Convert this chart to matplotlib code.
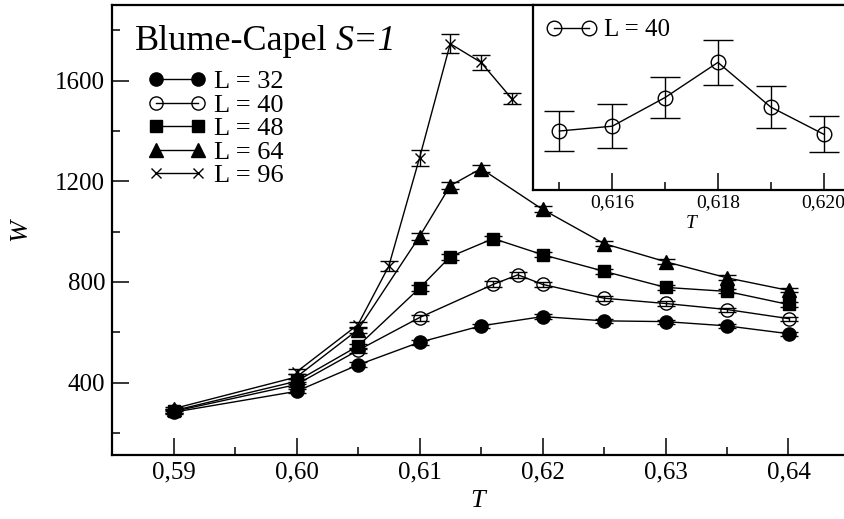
import matplotlib
matplotlib.use("Agg")
import matplotlib.pyplot as plt
from matplotlib.lines import Line2D
from matplotlib.ticker import MultipleLocator, FuncFormatter

plt.rcParams["font.family"] = "Liberation Serif"

# ── data ─────────────────────────────────────────────────────────
T32 = [0.59, 0.60, 0.605, 0.61, 0.615, 0.62, 0.625, 0.63, 0.635, 0.64]
W32 = [282, 365, 470, 560, 625, 662, 645, 642, 625, 594]
E32 = [8, 8, 10, 10, 8, 10, 8, 8, 8, 8]

T40 = [0.59, 0.60, 0.605, 0.61, 0.616, 0.618, 0.62, 0.625, 0.63, 0.635, 0.64]
W40 = [285, 392, 528, 658, 790, 828, 790, 735, 714, 690, 654]
E40 = [8, 10, 10, 12, 12, 12, 10, 10, 8, 8, 8]

T48 = [0.59, 0.60, 0.605, 0.61, 0.6125, 0.616, 0.62, 0.625, 0.63, 0.635, 0.64]
W48 = [288, 405, 545, 775, 900, 972, 908, 842, 778, 762, 710]
E48 = [8, 10, 10, 12, 12, 10, 10, 10, 10, 8, 8]

T64 = [0.59, 0.60, 0.605, 0.61, 0.6125, 0.615, 0.62, 0.625, 0.63, 0.635, 0.64]
W64 = [296, 422, 610, 980, 1182, 1250, 1088, 952, 880, 816, 766]
E64 = [8, 10, 12, 15, 15, 15, 12, 10, 10, 10, 8]

T96 = [0.60, 0.605, 0.6075, 0.61, 0.6125, 0.615, 0.6175]
W96 = [442, 630, 862, 1292, 1746, 1672, 1528]
E96 = [10, 12, 20, 30, 38, 30, 22]

# inset: L = 40 around the peak
TI = [0.615, 0.616, 0.617, 0.618, 0.619, 0.620]
WI = [785, 788, 806, 828, 800, 783]
EI = [12.8, 13.7, 13.0, 14.0, 13.4, 11.3]

LABELS = ["L = 32", "L = 40", "L = 48", "L = 64", "L = 96"]

# ── styles ───────────────────────────────────────────────────────
series = [
    (T32, W32, E32, "o", "black", 9.5),
    (T40, W40, E40, "o", "none", 9.5),
    (T48, W48, E48, "s", "black", 9.0),
    (T64, W64, E64, "^", "black", 10.5),
    (T96, W96, E96, "x", "black", 7.5),
]

comma = FuncFormatter(lambda v, p: f"{v:.2f}".replace(".", ","))
comma3 = FuncFormatter(lambda v, p: f"{v:.3f}".replace(".", ","))

fig = plt.figure(figsize=(8.45, 5.19), dpi=100)
ax = fig.add_axes([112 / 845, 64 / 519, 738 / 845, 450 / 519])

for (t, w, e, m, fc, ms) in series:
    ax.errorbar(t, w, yerr=e, color="black", lw=1.0, marker=m, ms=ms,
                mfc=fc, mec="black", mew=1.0, capsize=6.5, elinewidth=1.0,
                capthick=1.0, zorder=3)

ax.set_xlim(0.585, 0.645)
ax.set_ylim(112, 1900)
ax.xaxis.set_major_locator(MultipleLocator(0.01))
ax.xaxis.set_minor_locator(MultipleLocator(0.005))
ax.yaxis.set_major_locator(MultipleLocator(400))
ax.yaxis.set_minor_locator(MultipleLocator(200))
ax.xaxis.set_major_formatter(comma)
ax.tick_params(which="both", direction="in", top=False, right=False,
               width=1.1, labelsize=18)
ax.tick_params(which="major", length=12, pad=5)
ax.tick_params(which="minor", length=6)
for s in ax.spines.values():
    s.set_linewidth(1.6)

ax.set_xlabel("T", fontsize=19, fontstyle="italic")
ax.set_ylabel("W", fontsize=19, fontstyle="italic")
ax.xaxis.set_label_coords((478 - 112) / 738, (455 - 490) / 450)
ax.yaxis.set_label_coords((31 - 112) / 738, 0.5)

fig.text(135 / 845, 1 - 42 / 519, "Blume-Capel", fontsize=26,
         ha="left", va="center")
fig.text(336 / 845, 1 - 42 / 519, "S=1", fontsize=26, fontstyle="italic",
         ha="left", va="center")

handles = [Line2D([], [], color="black", lw=1.0, marker=m, ms=ms,
                  mfc=fc, mec="black", mew=1.0)
           for (_, _, _, m, fc, ms) in series]
ax.legend(handles, LABELS, loc="upper left",
          bbox_to_anchor=(148 / 845, 1 - 70 / 519),
          bbox_transform=fig.transFigure, frameon=False, numpoints=2,
          fontsize=19, handlelength=2.2, handletextpad=0.3,
          labelspacing=0.0, borderpad=0, borderaxespad=0)

# ── inset ────────────────────────────────────────────────────────
ins = fig.add_axes([533 / 845, 1 - 190 / 519, 317 / 845, 185 / 519])
ins.errorbar(TI, WI, yerr=EI, color="black", lw=1.0, marker="o", ms=10.5,
             mfc="none", mec="black", mew=1.0, capsize=11, elinewidth=1.0,
             capthick=1.0, label="L = 40")
ins.set_xlim(0.6145, 0.6205)
ins.set_ylim(748, 864)
ins.xaxis.set_major_locator(MultipleLocator(0.002))
ins.xaxis.set_minor_locator(MultipleLocator(0.001))
ins.xaxis.set_major_formatter(comma3)
ins.set_yticks([])
ins.tick_params(which="both", direction="in", top=False, right=False,
                width=1.1, labelsize=14)
ins.tick_params(which="major", length=12, pad=3)
ins.tick_params(which="minor", length=6)
for s in ins.spines.values():
    s.set_linewidth(1.6)
ins.set_xlabel("T", fontsize=14, fontstyle="italic", labelpad=3)
ins.legend([Line2D([], [], color="black", lw=1.0, marker="o", ms=10.5,
                   mfc="none", mec="black", mew=1.0)], ["L = 40"],
           loc="upper left", bbox_to_anchor=(547 / 845, 1 - 19 / 519),
           bbox_transform=fig.transFigure, frameon=False, numpoints=2,
           fontsize=18, handlelength=2.0, handletextpad=0.3,
           borderpad=0, borderaxespad=0)

fig.savefig("out.png", dpi=100)
